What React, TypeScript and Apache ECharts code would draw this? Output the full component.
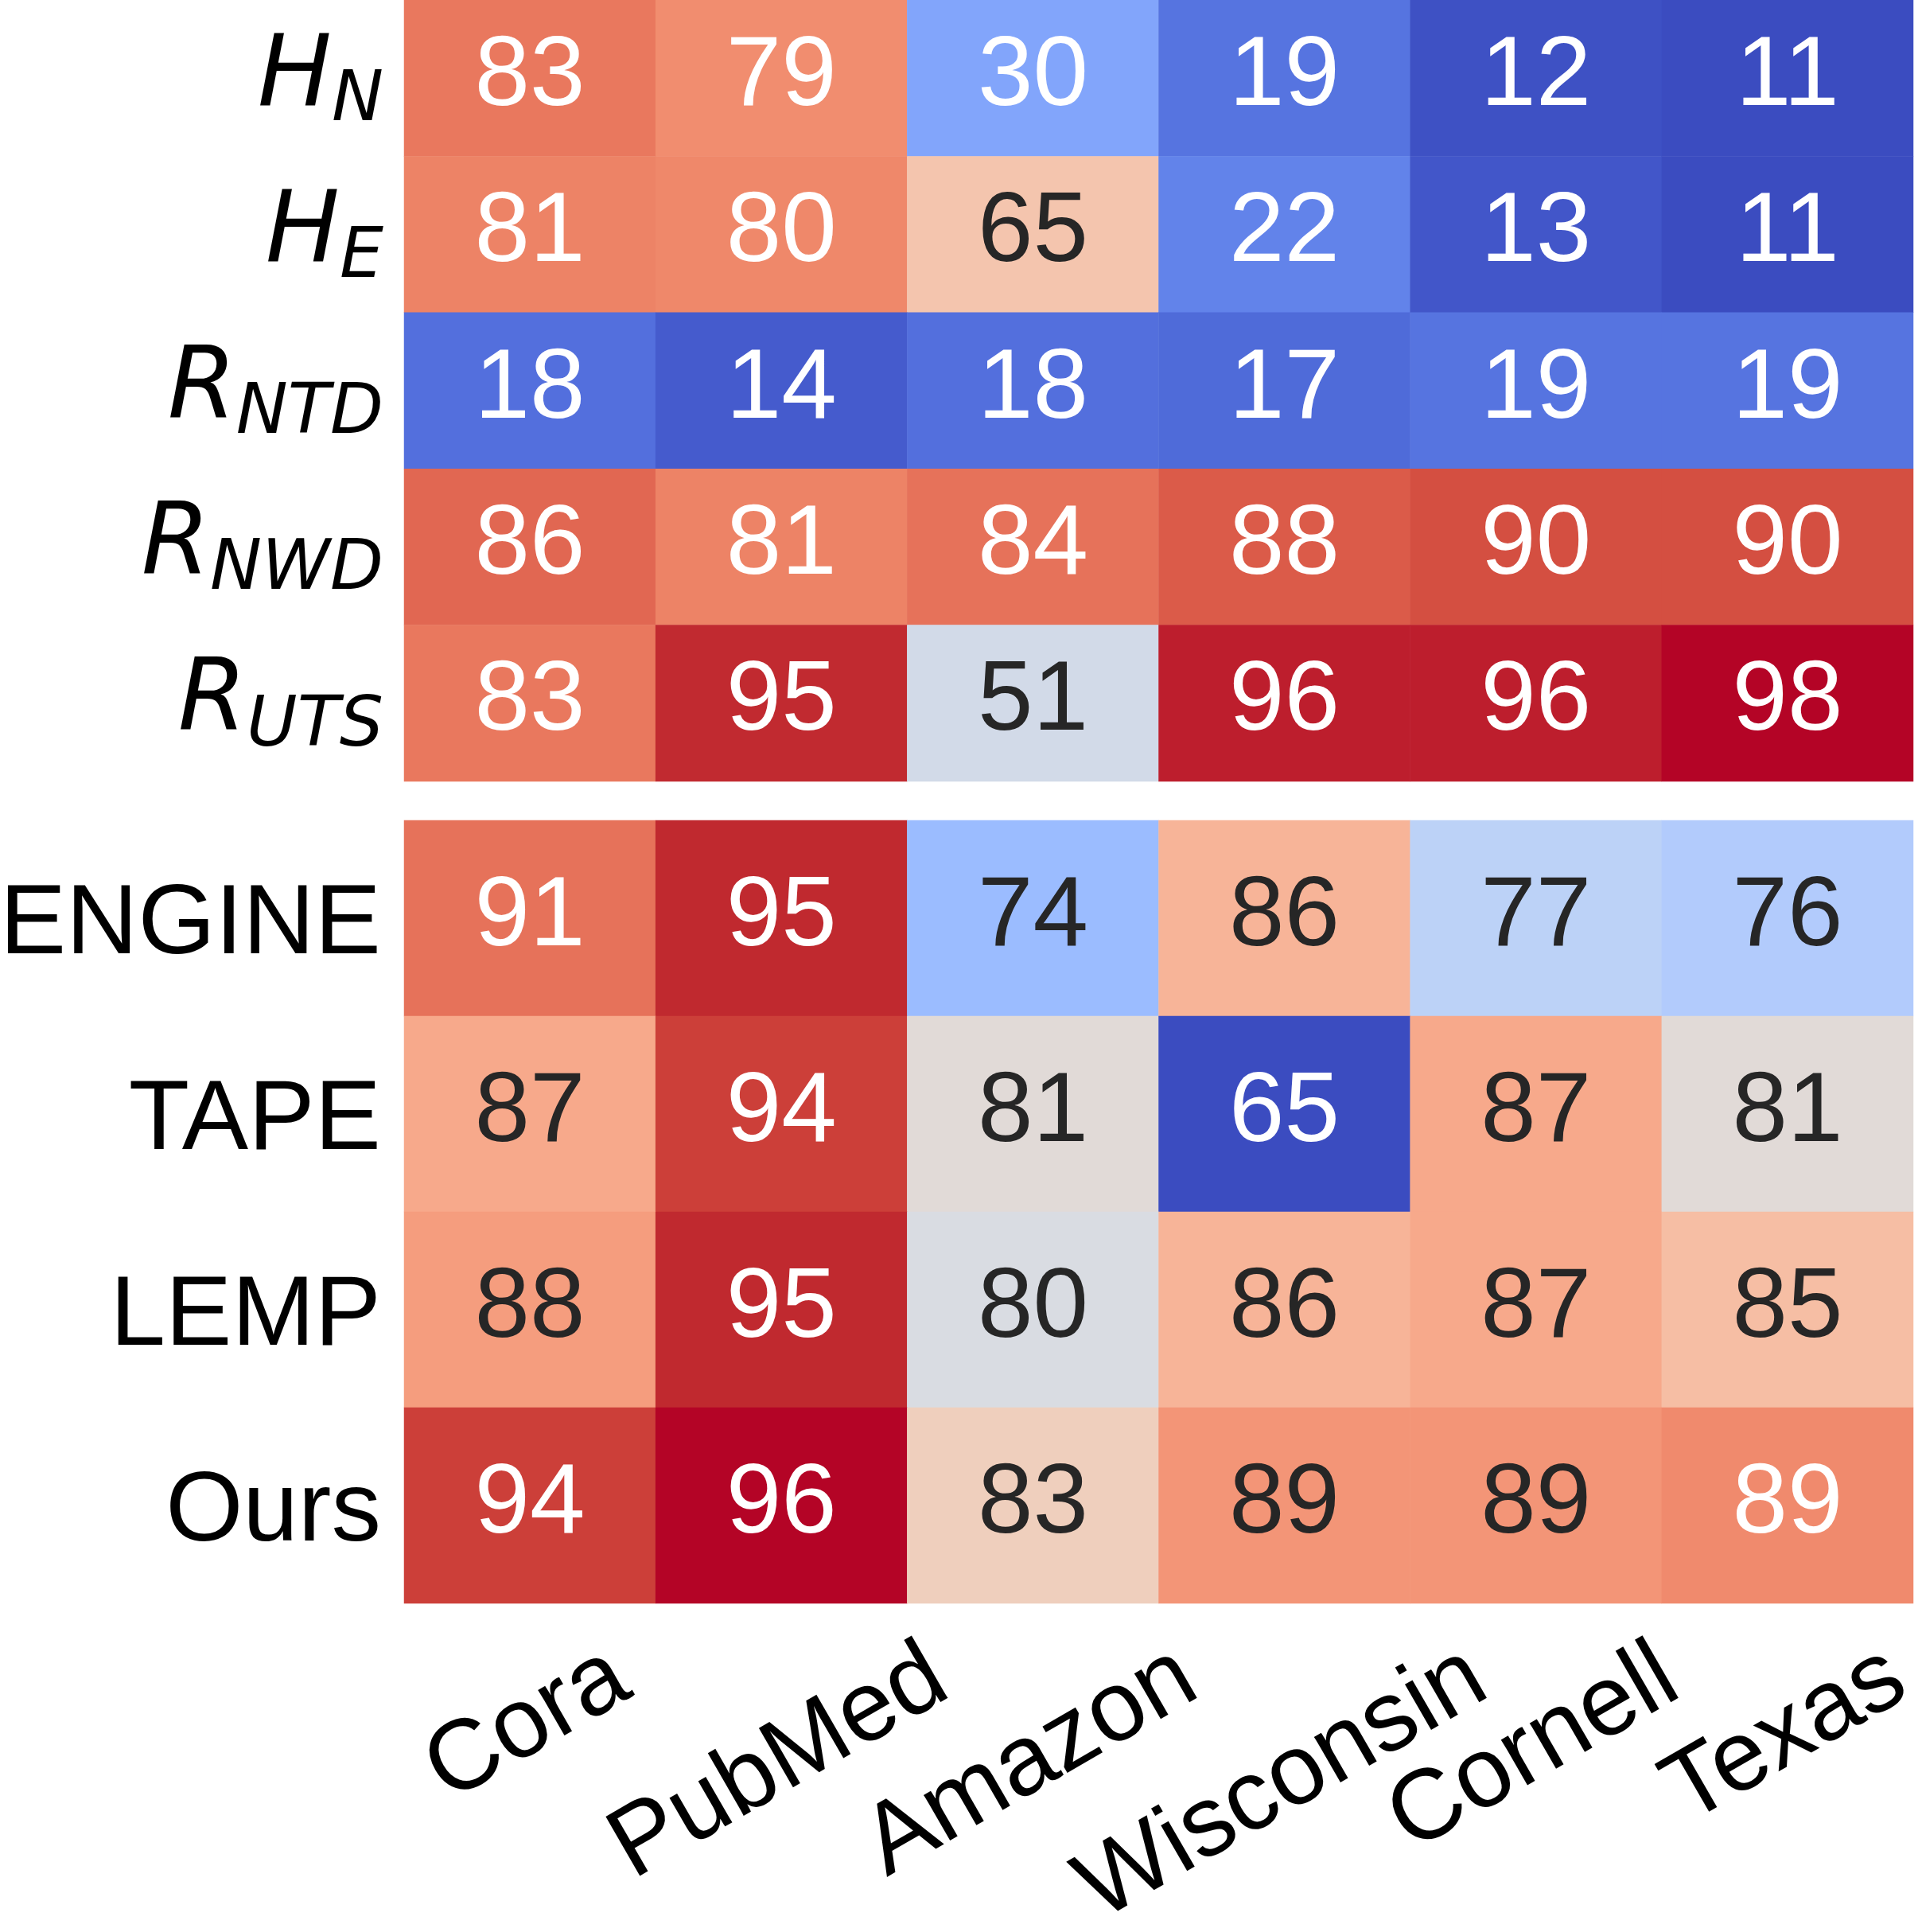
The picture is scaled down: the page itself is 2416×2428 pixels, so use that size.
import React, { useEffect, useRef } from 'react';
import * as echarts from 'echarts';

// ---- data ----
const columns = ['Cora', 'PubMed', 'Amazon', 'Wisconsin', 'Cornell', 'Texas'];

const topRowMain = ['H', 'H', 'R', 'R', 'R'];
const topRowSub = ['N', 'E', 'NTD', 'NWD', 'UTS'];
const topValues = [
  [83, 79, 30, 19, 12, 11],
  [81, 80, 65, 22, 13, 11],
  [18, 14, 18, 17, 19, 19],
  [86, 81, 84, 88, 90, 90],
  [83, 95, 51, 96, 96, 98],
];

const bottomRows = ['ENGINE', 'TAPE', 'LEMP', 'Ours'];
const bottomValues = [
  [91, 95, 74, 86, 77, 76],
  [87, 94, 81, 65, 87, 81],
  [88, 95, 80, 86, 87, 85],
  [94, 96, 83, 88.6, 88.6, 89.4],
];

const topRange = [11, 98];
const bottomRange = [65, 96];

// coolwarm colormap stops
const coolwarm = [
  '#3b4cc0', '#445acc', '#4d68d7', '#5775e1', '#6282ea', '#6c8ef1', '#779af7', '#82a5fb',
  '#8db0fe', '#98b9ff', '#a3c2ff', '#aec9fd', '#b8d0f9', '#c2d5f4', '#ccd9ee', '#d5dbe6',
  '#dddddd', '#e5d8d1', '#ecd3c5', '#f1ccb8', '#f5c4ac', '#f7bba0', '#f7b194', '#f7a687',
  '#f49a7b', '#f18d6f', '#ec7f63', '#e57058', '#de604d', '#d55042', '#cb3e38', '#c0282f',
  '#b40426',
];

const FONT = '"Liberation Sans", Arial, Helvetica, sans-serif';
const MATH = '"DejaVu Sans", sans-serif';

function hexToRgb(h: string) {
  return [parseInt(h.slice(1, 3), 16), parseInt(h.slice(3, 5), 16), parseInt(h.slice(5, 7), 16)];
}
function cmap(t: number) {
  const tt = Math.max(0, Math.min(1, t));
  const pos = tt * (coolwarm.length - 1);
  const i = Math.min(coolwarm.length - 2, Math.floor(pos));
  const f = pos - i;
  const a = hexToRgb(coolwarm[i]);
  const b = hexToRgb(coolwarm[i + 1]);
  return a.map((v, k) => v + (b[k] - v) * f);
}
function luminance(rgb: number[]) {
  const lin = rgb.map((c) => {
    const s = c / 255;
    return s <= 0.03928 ? s / 12.92 : Math.pow((s + 0.055) / 1.055, 2.4);
  });
  return 0.2126 * lin[0] + 0.7152 * lin[1] + 0.0722 * lin[2];
}
function buildData(values: number[][], range: number[]) {
  const out: any[] = [];
  values.forEach((row, r) => {
    row.forEach((v, c) => {
      const col = cmap((v - range[0]) / (range[1] - range[0]));
      const textColor = luminance(col) > 0.408 ? '#262626' : '#ffffff';
      out.push({ value: [c, r, v], label: { color: textColor } });
    });
  });
  return out;
}

export default function App() {
  const ref = useRef<HTMLDivElement>(null);
  useEffect(() => {
    document.body.style.margin = '0';
    if (!ref.current) return;
    const chart = echarts.init(ref.current, undefined, { renderer: 'svg' });
    const topKeys = topRowSub.map((s, i) => topRowMain[i] + '_' + s);
    const cellLabel = {
      show: true,
      fontFamily: FONT,
      fontSize: 125,
      offset: [0, -10],
      formatter: (p: any) => String(Math.round(p.value[2])),
    };
    const hiddenX = (gi: number) => ({
      type: 'category',
      gridIndex: gi,
      data: columns,
      axisLine: { show: false },
      axisTick: { show: false },
      axisLabel: { show: false },
      splitLine: { show: false },
      splitArea: { show: false },
    });
    const option: any = {
      animation: false,
      backgroundColor: '#ffffff',
      grid: [
        { left: 508, top: 0, width: 1897, height: 982, containLabel: false, outerBoundsMode: 'none' },
        { left: 508, top: 1031, width: 1897, height: 984, containLabel: false, outerBoundsMode: 'none' },
      ],
      xAxis: [hiddenX(0), hiddenX(1)],
      yAxis: [
        {
          type: 'category',
          gridIndex: 0,
          data: topKeys,
          inverse: true,
          axisLine: { show: false },
          axisTick: { show: false },
          splitLine: { show: false },
          axisLabel: {
            margin: 26,
            padding: [0, 0, 13, 0],
            formatter: (_v: string, i: number) => `{m|${topRowMain[i]}}{s|${topRowSub[i]}}`,
            rich: {
              m: { fontFamily: MATH, fontStyle: 'italic', fontSize: 124, lineHeight: 130, verticalAlign: 'top', color: '#000' },
              s: { fontFamily: MATH, fontStyle: 'italic', fontSize: 87, lineHeight: 87, padding: [51, 0, 0, 0], verticalAlign: 'top', color: '#000' },
            },
          },
        },
        {
          type: 'category',
          gridIndex: 1,
          data: bottomRows,
          inverse: true,
          axisLine: { show: false },
          axisTick: { show: false },
          splitLine: { show: false },
          axisLabel: { margin: 29, fontFamily: FONT, fontSize: 125, color: '#000', padding: [0, 0, 20, 0] },
        },
      ],
      visualMap: [
        { type: 'continuous', show: false, seriesIndex: 0, dimension: 2, min: topRange[0], max: topRange[1], inRange: { color: coolwarm } },
        { type: 'continuous', show: false, seriesIndex: 1, dimension: 2, min: bottomRange[0], max: bottomRange[1], inRange: { color: coolwarm } },
      ],
      series: [
        { type: 'heatmap', xAxisIndex: 0, yAxisIndex: 0, data: buildData(topValues, topRange), label: cellLabel, emphasis: { disabled: true } },
        { type: 'heatmap', xAxisIndex: 1, yAxisIndex: 1, data: buildData(bottomValues, bottomRange), label: cellLabel, emphasis: { disabled: true } },
      ],
    };
    chart.setOption(option);

    // rotated x tick labels, centred under each column (matplotlib style ha=center, va=top)
    const canvas = document.createElement('canvas');
    const ctx = canvas.getContext('2d')!;
    ctx.font = `125px ${FONT}`;
    const labelTop = 2092;
    const graphic = columns.map((name) => {
      const cx = chart.convertToPixel({ xAxisIndex: 1 }, name) as number;
      const w = ctx.measureText(name).width;
      return {
        type: 'text',
        x: cx - 7,
        y: labelTop + w / 4,
        rotation: Math.PI / 6,
        style: { text: name, fontFamily: FONT, fontSize: 125, fill: '#000', align: 'center', verticalAlign: 'middle' },
      };
    });
    chart.setOption({ graphic });

    return () => chart.dispose();
  }, []);
  return <div ref={ref} style={{ width: 2416, height: 2428 }} />;
}
